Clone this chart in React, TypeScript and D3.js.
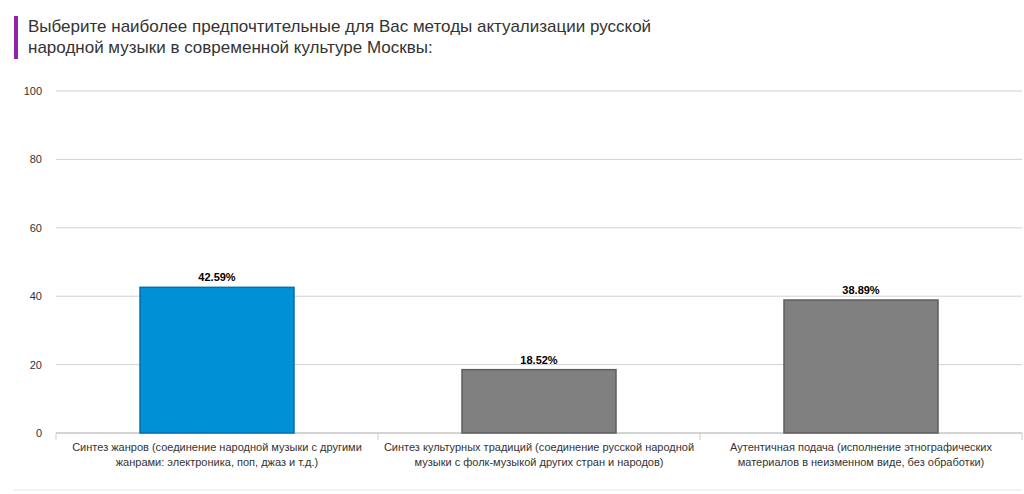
import React, { useEffect, useRef } from "react";
import * as d3 from "d3";

const titleLines = [
  "Выберите наиболее предпочтительные для Вас методы актуализации русской",
  "народной музыки в современной культуре Москвы:",
];
const categories = [
  ["Синтез жанров (соединение народной музыки с другими", "жанрами: электроника, поп, джаз и т.д.)"],
  ["Синтез культурных традиций (соединение русской народной", "музыки с фолк-музыкой других стран и народов)"],
  ["Аутентичная подача (исполнение этнографических", "материалов в неизменном виде, без обработки)"],
];
const values = [42.59, 18.52, 38.89];
const fills = ["#0090d6", "#808080", "#808080"];
const strokes = ["#0070b0", "#5e5e5e", "#5e5e5e"];
const yTicks = [0, 20, 40, 60, 80, 100];

export default function App() {
  const ref = useRef<SVGSVGElement>(null);
  useEffect(() => {
    const W = 1024, H = 494;
    const svg = d3.select(ref.current).attr("width", W).attr("height", H);
    svg.selectAll("*").remove();
    const font = "Arial, 'Liberation Sans', sans-serif";

    svg.append("rect").attr("x", 14).attr("y", 16).attr("width", 4).attr("height", 43).attr("fill", "#8e24aa");
    titleLines.forEach((t, i) =>
      svg.append("text").attr("x", 28).attr("y", 32 + i * 21).attr("fill", "#333")
        .style("font-family", font).style("font-size", "17px").text(t));

    const x = d3.scaleBand().domain(d3.range(3).map(String)).range([56, 1022]).paddingInner(0).paddingOuter(0);
    const y = d3.scaleLinear().domain([0, 100]).range([433, 91]);

    yTicks.forEach((t) => {
      svg.append("line").attr("x1", 56).attr("x2", 1022).attr("y1", y(t)).attr("y2", y(t))
        .attr("stroke", t === 0 ? "#aaa" : "#d0d0d8");
      svg.append("text").attr("x", 42).attr("y", y(t) + 4).attr("text-anchor", "end")
        .attr("fill", "#333").style("font-family", font).style("font-size", "11px").text(t);
    });
    [0, 1, 2, 3].forEach((i) => {
      const xx = i < 3 ? x(String(i))! : 1022;
      svg.append("line").attr("x1", xx).attr("x2", xx).attr("y1", 433).attr("y2", 440).attr("stroke", "#ccc");
    });

    const bw = 154;
    values.forEach((v, i) => {
      const cx = x(String(i))! + x.bandwidth() / 2;
      svg.append("rect").attr("x", cx - bw / 2).attr("y", y(v)).attr("width", bw)
        .attr("height", y(0) - y(v)).attr("fill", fills[i]).attr("stroke", strokes[i]).attr("stroke-width", 1.5);
      svg.append("text").attr("x", cx).attr("y", y(v) - 6).attr("text-anchor", "middle")
        .attr("fill", "#000").style("font-family", font).style("font-size", "11px").style("font-weight", "bold")
        .text(v.toFixed(2) + "%");
      categories[i].forEach((l, j) =>
        svg.append("text").attr("x", cx).attr("y", 451 + j * 15).attr("text-anchor", "middle")
          .attr("fill", "#333").style("font-family", font).style("font-size", "11px").text(l));
    });
    svg.append("line").attr("x1", 14).attr("x2", 1022).attr("y1", 490).attr("y2", 490).attr("stroke", "#e6e6e6");
  }, []);
  return <svg ref={ref} style={{ position: "absolute", left: 0, top: 0 }} />;
}
